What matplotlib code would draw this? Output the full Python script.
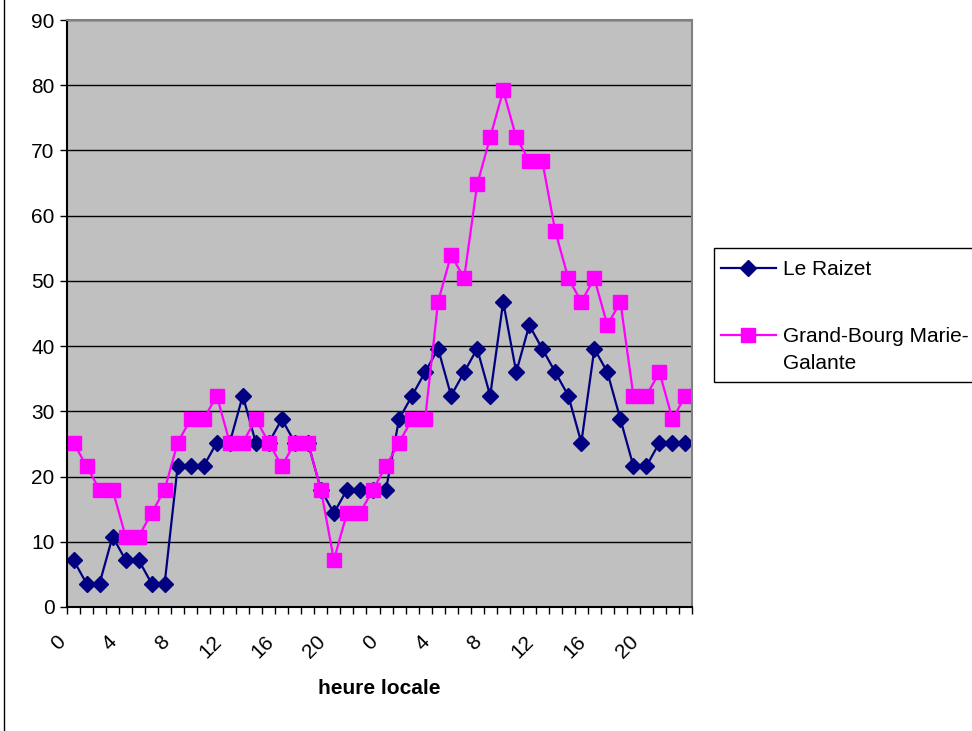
import matplotlib.pyplot as plt
import matplotlib.transforms as mtransforms
from matplotlib.patches import Rectangle
from matplotlib.lines import Line2D
import numpy as np

plt.rcParams['font.family'] = ['Liberation Sans', 'DejaVu Sans']

# Wind speed (km/h), hourly over two days
hour_labels = ["0", "4", "8", "12", "16", "20", "0", "4", "8", "12", "16", "20"]
le_raizet = [7.2, 3.6, 3.6, 10.8, 7.2, 7.2, 3.6, 3.6, 21.6, 21.6, 21.6, 25.2,
             25.2, 32.4, 25.2, 25.2, 28.8, 25.2, 25.2, 18.0, 14.4, 18.0, 18.0, 18.0,
             18.0, 28.8, 32.4, 36.0, 39.6, 32.4, 36.0, 39.6, 32.4, 46.8, 36.0, 43.2,
             39.6, 36.0, 32.4, 25.2, 39.6, 36.0, 28.8, 21.6, 21.6, 25.2, 25.2, 25.2]
grand_bourg = [25.2, 21.6, 18.0, 18.0, 10.8, 10.8, 14.4, 18.0, 25.2, 28.8, 28.8, 32.4,
               25.2, 25.2, 28.8, 25.2, 21.6, 25.2, 25.2, 18.0, 7.2, 14.4, 14.4, 18.0,
               21.6, 25.2, 28.8, 28.8, 46.8, 54.0, 50.4, 64.8, 72.0, 79.2, 72.0, 68.4,
               68.4, 57.6, 50.4, 46.8, 50.4, 43.2, 46.8, 32.4, 32.4, 36.0, 28.8, 32.4]
series_names = ["Le Raizet", "Grand-Bourg Marie-\nGalante"]
colors = ["#000080", "#FF00FF"]
markers = ["D", "s"]
msizes = [8.5, 9.5]

W, H = 972, 731
fig = plt.figure(figsize=(W / 100, H / 100), dpi=100)
ax = fig.add_axes([67/W, 1 - 607/H, 625/W, 587/H])
ax.set_facecolor("#C0C0C0")

x = np.arange(len(le_raizet))
for ys, c, m, ms in zip([le_raizet, grand_bourg], colors, markers, msizes):
    ax.plot(x, ys, color=c, marker=m, markersize=ms, lw=1.6,
            markeredgecolor=c)

ax.set_xlim(-0.5, len(x) - 0.5)
ax.set_ylim(0, 90)
ax.set_yticks(range(0, 91, 10))
ax.yaxis.grid(True, color="black", lw=1)
ax.set_axisbelow(True)

ax.set_xticks(np.arange(-0.5, len(x)), minor=True)
ax.set_xticks(np.arange(0, len(x), 4))
ax.set_xticklabels(hour_labels, rotation=45, ha="right", va="top",
                   rotation_mode="anchor")
ax.tick_params(axis="x", which="major", length=0, pad=18, labelsize=15)
ax.tick_params(axis="x", which="minor", length=5, width=1, direction="out")
ax.tick_params(axis="y", length=5, width=1, direction="out", labelsize=15, pad=4)

shift = mtransforms.ScaledTranslation(-18/100, 0, fig.dpi_scale_trans)
for lab in ax.get_xticklabels():
    lab.set_transform(lab.get_transform() + shift)

for s in ["top", "right"]:
    ax.spines[s].set_color("#808080")
    ax.spines[s].set_linewidth(1.5)
for s in ["left", "bottom"]:
    ax.spines[s].set_color("black")
    ax.spines[s].set_linewidth(1.5)

ax.set_xlabel("heure locale", fontsize=15, fontweight="bold", labelpad=12)

# legend box drawn by hand (handle sits on the first text line, Excel style)
fig.add_artist(Rectangle((714/W, 1 - 382/H), 300/W, 134/H, transform=fig.transFigure,
                         facecolor="white", edgecolor="black", lw=1))
for name, c, m, ms, yp in zip(series_names, colors, markers, msizes, [268, 335]):
    fig.add_artist(Line2D([721/W, 776/W], [1 - yp/H, 1 - yp/H], color=c, lw=1.6))
    fig.add_artist(Line2D([748/W], [1 - yp/H], color=c, marker=m, markersize=ms,
                          markeredgecolor=c))
    fig.text(783/W, 1 - (yp - 8)/H, name, fontsize=15, va="top", ha="left",
             linespacing=1.5)

# chart-area border on the left
fig.add_artist(Line2D([4/W, 4/W], [0, 1], color="black", lw=1))

fig.savefig("out.png", dpi=100)
